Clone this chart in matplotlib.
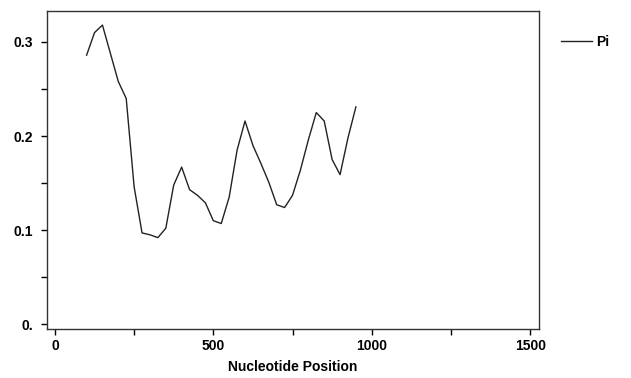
import matplotlib
matplotlib.use("Agg")
import matplotlib.pyplot as plt
from matplotlib.ticker import MultipleLocator, FixedFormatter, FixedLocator

plt.rcParams['font.family'] = ['Liberation Sans', 'DejaVu Sans']

# Nucleotide diversity (Pi) along the sequence
positions = [100, 125, 150, 175, 200, 225, 250, 275, 300, 325, 350, 375,
             400, 425, 450, 475, 500, 525, 550, 575, 600, 625, 650, 675,
             700, 725, 750, 775, 800, 825, 850, 875, 900, 925, 950]
pi_values = [0.286, 0.310, 0.318, 0.288, 0.258, 0.240, 0.146, 0.097, 0.095,
             0.092, 0.102, 0.148, 0.167, 0.143, 0.137, 0.129, 0.110, 0.107,
             0.135, 0.185, 0.216, 0.190, 0.171, 0.151, 0.127, 0.124, 0.137,
             0.164, 0.196, 0.225, 0.216, 0.175, 0.159, 0.198, 0.231]

x_ticks = [0, 500, 1000, 1500]
y_ticks = [0.0, 0.1, 0.2, 0.3]
y_tick_labels = ["0.", "0.1", "0.2", "0.3"]

fig = plt.figure(figsize=(6.31, 3.78), dpi=100)
ax = fig.add_axes([0.0745, 0.130, 0.7797, 0.841])

line, = ax.plot(positions, pi_values, color="#222222", linewidth=1.0, label="Pi")

ax.set_xlim(-25, 1528)
ax.set_ylim(-0.005, 0.333)

ax.xaxis.set_major_locator(FixedLocator(x_ticks))
ax.xaxis.set_minor_locator(MultipleLocator(250))
ax.yaxis.set_major_locator(FixedLocator(y_ticks))
ax.yaxis.set_major_formatter(FixedFormatter(y_tick_labels))
ax.yaxis.set_minor_locator(MultipleLocator(0.05))

ax.tick_params(which="both", direction="out", length=4, width=1, colors="black")
ax.tick_params(axis="y", which="major", pad=6)
for lab in ax.get_xticklabels() + ax.get_yticklabels():
    lab.set_fontweight("bold")
    lab.set_fontsize(10)

for sp in ax.spines.values():
    sp.set_linewidth(1.0)
    sp.set_color("#333333")

ax.set_xlabel("Nucleotide Position", fontsize=10, fontweight="bold", labelpad=5)

leg = ax.legend(handles=[line], loc="upper left", bbox_to_anchor=(1.02, 0.963),
                frameon=False, handlelength=2.2, handletextpad=0.3,
                prop={"weight": "bold", "size": 10})

fig.savefig("out.png", dpi=100)
